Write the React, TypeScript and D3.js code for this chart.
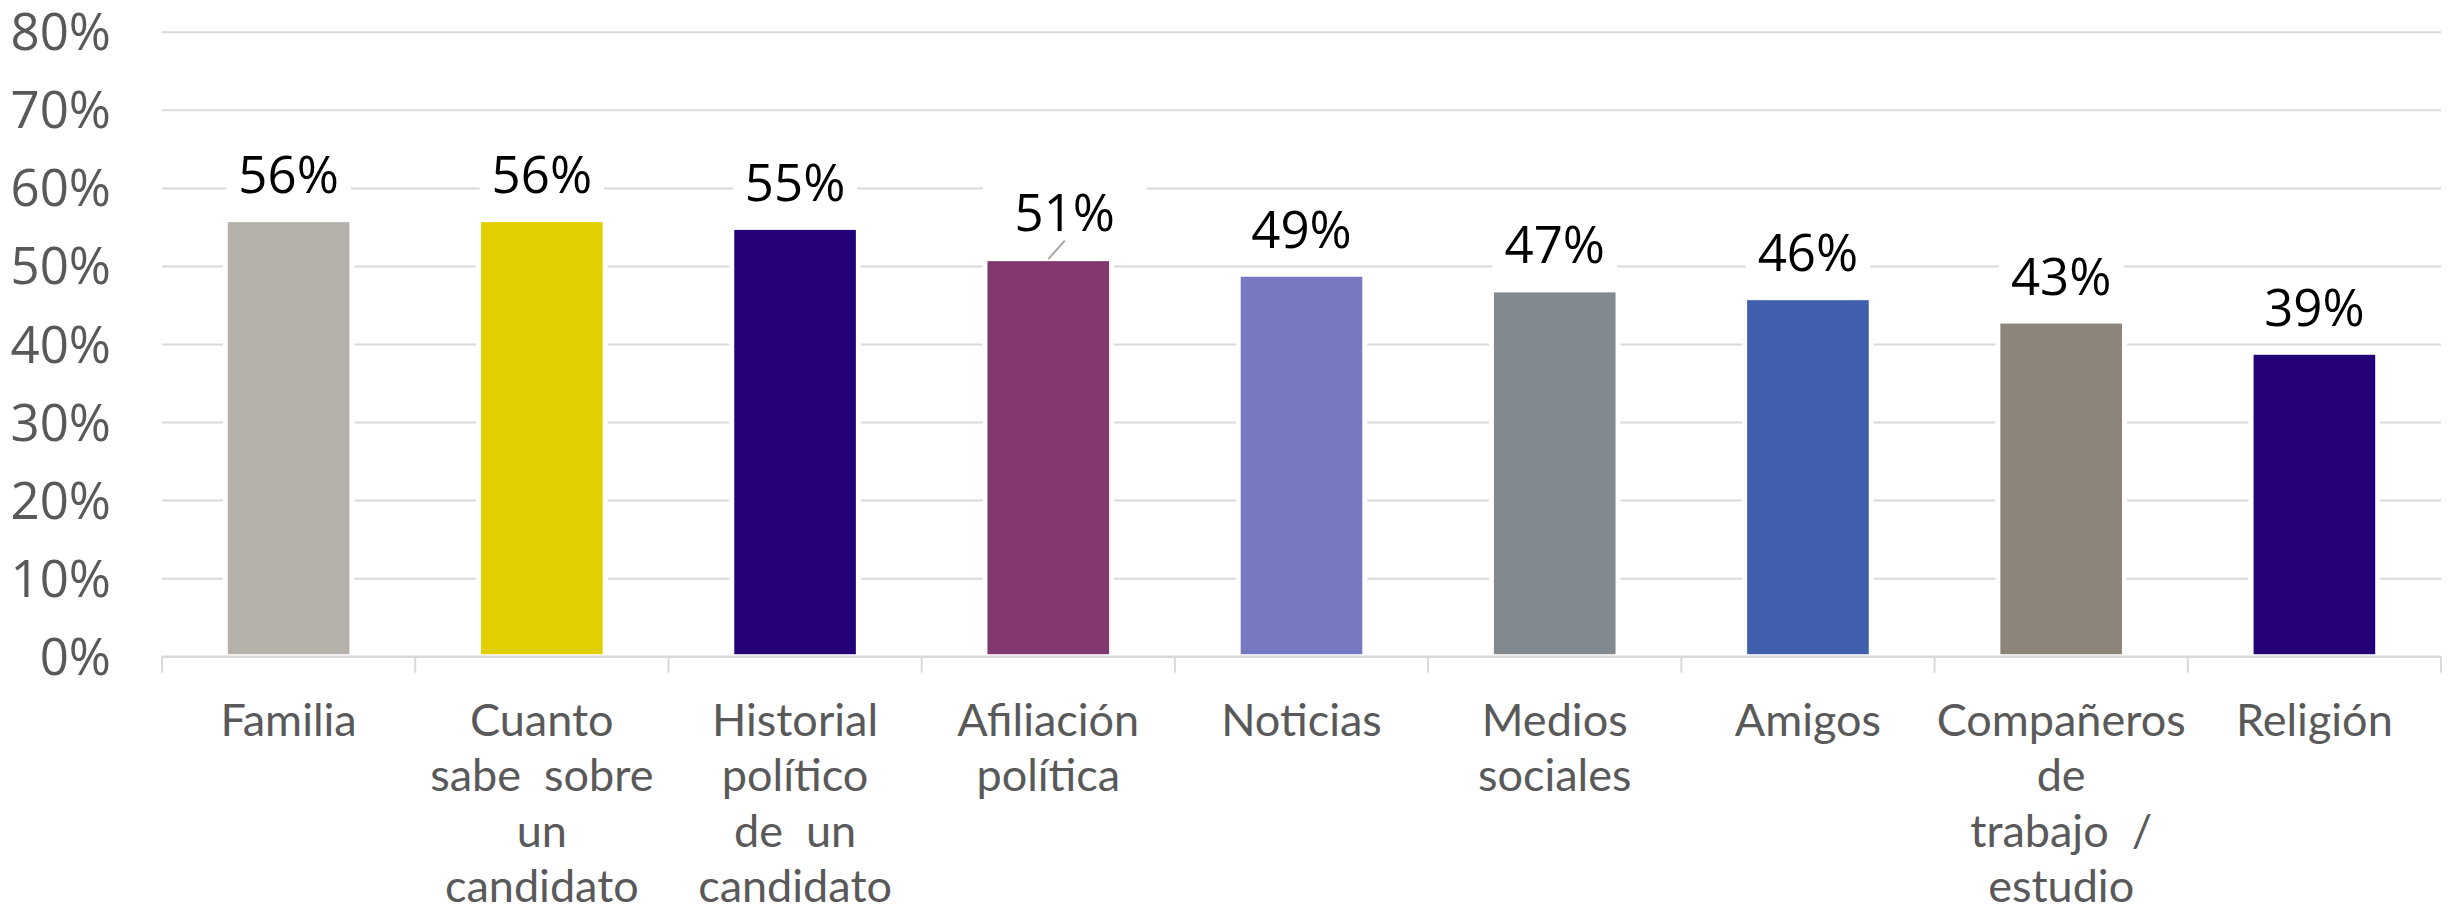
import React, { useEffect } from "react";
import * as d3 from "d3";

const categories = [
  "Familia",
  "Cuanto sabe sobre un candidato",
  "Historial político de un candidato",
  "Afiliación política",
  "Noticias",
  "Medios sociales",
  "Amigos",
  "Compañeros de trabajo / estudio",
  "Religión",
];
const categoryLines = [
  ["Familia"],
  ["Cuanto", "sabe  sobre", "un", "candidato"],
  ["Historial", "político", "de  un", "candidato"],
  ["Afiliación", "política"],
  ["Noticias"],
  ["Medios", "sociales"],
  ["Amigos"],
  ["Compañeros", "de", "trabajo  /", "estudio"],
  ["Religión"],
];
const values = [56, 56, 55, 51, 49, 47, 46, 43, 39];
const yTicks = [0, 10, 20, 30, 40, 50, 60, 70, 80];

const barColors = [
  "#b6b1aa",
  "#e2cf00",
  "#230078",
  "#82386f",
  "#7678c1",
  "#82898f",
  "#3f5fac",
  "#8e857a",
  "#230078",
];

const W = 2453;
const H = 911;

export default function App() {
  useEffect(() => {
    document.body.style.margin = "0";
  }, []);

  const x = d3
    .scaleBand<string>()
    .domain(categories)
    .range([162, 2441])
    .paddingInner(0.5)
    .paddingOuter(0.25);
  const y = d3.scaleLinear().domain([0, 80]).range([656.7, 32.3]);
  const step = x.step();
  const bw = x.bandwidth();
  const grid = "#d9d9d9";

  const boundaries = categories.map((c) => (x(c) as number) + bw / 2 - step / 2);
  boundaries.push((x(categories[categories.length - 1]) as number) + bw / 2 + step / 2);

  return (
    <svg
      width={W}
      height={H}
      style={{ display: "block", position: "absolute", left: 0, top: 0, background: "#fff" }}
    >
      <rect x={0} y={0} width={W} height={H} fill="#fff" />
      {yTicks
        .filter((t) => t > 0)
        .map((t) => (
          <line key={"g" + t} x1={162} x2={2441} y1={y(t)} y2={y(t)} stroke={grid} strokeWidth={2} />
        ))}
      {categories.map((c, i) => (
        <rect
          key={"b" + i}
          x={x(c) as number}
          y={y(values[i])}
          width={bw}
          height={y(0) - y(values[i])}
          fill={barColors[i]}
          stroke="#fff"
          strokeWidth={5}
        />
      ))}
      {categories.map((c, i) => {
        const cx = (x(c) as number) + bw / 2;
        const special = i === 3;
        const lx = special ? cx + 16.5 : cx;
        const base = special ? y(values[i]) - 28 : y(values[i]) - 26.5;
        const boxW = special ? 164 : bw - 2;
        return (
          <g key={"l" + i}>
            <rect x={lx - boxW / 2} y={base - 48} width={boxW} height={60} fill="#fff" />
            {special && (
              <line
                x1={cx}
                y1={y(values[i]) + 0.5}
                x2={lx}
                y2={base + 10}
                stroke="#a6a6a6"
                strokeWidth={2}
              />
            )}
            <text
              x={lx}
              y={base}
              textAnchor="middle"
              fontFamily="'Open Sans', sans-serif"
              fontSize={51}
              fill="#000"
            >
              {values[i] + "%"}
            </text>
          </g>
        );
      })}
      <line x1={162} x2={2441} y1={y(0)} y2={y(0)} stroke={grid} strokeWidth={2.5} />
      {boundaries.map((bx, i) => (
        <line key={"t" + i} x1={bx} x2={bx} y1={y(0)} y2={y(0) + 16} stroke={grid} strokeWidth={2} />
      ))}
      {yTicks.map((t) => (
        <text
          key={"yl" + t}
          x={111}
          y={y(t) + 18}
          textAnchor="end"
          fontFamily="'Open Sans', sans-serif"
          fontSize={51}
          fill="#595959"
        >
          {t + "%"}
        </text>
      ))}
      {categories.map((c, i) => {
        const cx = (x(c) as number) + bw / 2;
        return (
          <text
            key={"c" + i}
            textAnchor="middle"
            fontFamily="Lato, sans-serif"
            fontSize={45}
            fill="#595959"
            style={{ whiteSpace: "pre" }}
          >
            {categoryLines[i].map((ln, j) => (
              <tspan key={j} x={cx} y={735.7 + j * 55.5}>
                {ln}
              </tspan>
            ))}
          </text>
        );
      })}
    </svg>
  );
}
